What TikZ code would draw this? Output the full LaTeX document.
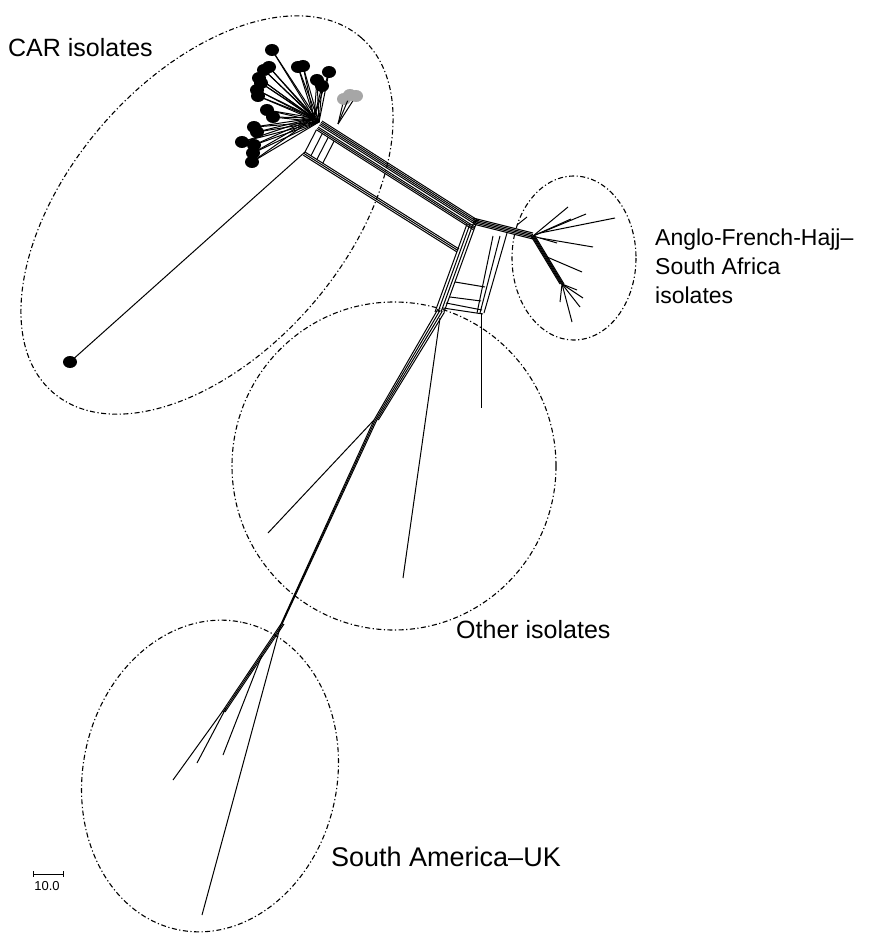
\documentclass[tikz,border=0pt]{standalone}
\usepackage{fontspec}
\setmainfont{Liberation Sans}
\usetikzlibrary{calc}

\begin{document}
\begin{tikzpicture}[x=1pt, y=-1pt,
    split/.style={line width=1pt},
    group/.style={line width=1.1pt, dash pattern=on 5pt off 2.5pt on 1.2pt off 2.5pt},
    taxon/.style={fill=black},
    lbl/.style={font=\fontsize{25}{29}\selectfont, inner sep=0pt}]

  \useasboundingbox (0,0) rectangle (869,933);

  % hubs of the network
  \coordinate (carhub) at (314,118);
  \coordinate (carroot) at (305,152);
  \coordinate (cardot) at (70,362);

  \coordinate (ua) at (322,121);
  \coordinate (ub) at (479,221);
  \coordinate (la) at (305,152);
  \coordinate (lb) at (459,249);

  \coordinate (bl1) at (467,224);
  \coordinate (bl2) at (435,312);

  \coordinate (afhub) at (533,236);
  \coordinate (afsub) at (562,284);

  \coordinate (trunk) at (438,309);
  \coordinate (bend) at (374,420);
  \coordinate (sahub) at (281,624);
  \coordinate (saband) at (222,712);

  % groups
  \draw[group, rotate around={49:(207,215)}] (207,215) ellipse [x radius=235, y radius=138];
  \draw[group] (394,466) ellipse [x radius=162, y radius=164];
  \draw[group] (574,258) ellipse [x radius=62, y radius=82];
  \draw[group, rotate around={78:(210,776)}] (210,776) ellipse [x radius=157, y radius=127];

  % CAR fan
  \foreach \x/\y in {272/50, 269/67, 264/70, 259/78, 261/83, 257/90, 258/96,
                     303/66, 298/67, 329/72, 317/80, 322/86, 267/110, 273/117,
                     254/127, 257/132, 242/142, 254/145, 253/153, 252/162}
    {
      \draw[split] (carhub) -- (\x,\y);
      \draw[split] ($(carhub)+(5,4)$) -- (\x,\y);
      \fill[taxon] (\x,\y) ellipse [x radius=7, y radius=6];
    }
  \foreach \x/\y in {344/99, 350/95, 356/96}
    {
      \draw[split] (338,124) -- (\x,\y);
      \fill[gray!70] (\x,\y) ellipse [x radius=7, y radius=6];
    }

  \draw[split] (carroot) -- (cardot);
  \fill[taxon] (cardot) ellipse [x radius=7, y radius=6];

  % the two long bands
  \foreach \k in {0,1.6,3.2,4.8,7.2,8.8,10.4}
    \draw[split] ($(ua)+(-0.535*\k,0.845*\k)$) -- ($(ub)+(-0.535*\k,0.845*\k)$);
  \foreach \k in {0,1.8,3.6}
    \draw[split] ($(la)+(-0.535*\k,0.845*\k)$) -- ($(lb)+(-0.535*\k,0.845*\k)$);
  \foreach \s in {0,7,14,21}
    \draw[split] ($(ua)+(-5.6,8.8)+(0.845*\s,0.535*\s)$) -- ($(la)+(0.845*\s,0.535*\s)$);

  % box under the junction
  \foreach \k in {0,3,6,9}
    \draw[split] ($(bl1)+(\k,0)$) -- ($(bl2)+(\k,0)$);
  \draw[split] (493,236) -- (477,313);
  \draw[split] (500,236) -- (480,313);
  \draw[split] (507,233) -- (484,313);
  \draw[split] (455,282) -- (485,287);
  \draw[split] (450,297) -- (481,301);
  \draw[split] (446,303) -- (482,310);
  \draw[split] (443,308) -- (483,314);

  \foreach \k in {-3,-1.5,0,1.5,3}
    \draw[split] ($(ub)+(-6,\k)$) -- ($(afhub)+(0,\k)$);

  % Anglo-French-Hajj-South Africa
  \draw[split] (afhub) -- (568,207);
  \draw[split] (afhub) -- (571,219);
  \draw[split] (afhub) -- (586,214);
  \draw[split] (540,233) -- (615,218);
  \draw[split] (afhub) -- (557,243);
  \draw[split] (540,238) -- (593,247);
  \draw[split] (517,225) -- (527,217);
  \foreach \k in {-2,-1,0,1,2}
    \draw[split] ($(afhub)+(\k,0)$) -- ($(afsub)+(\k,0)$);
  \draw[split] (547,257) -- (582,272);
  \draw[split] (afsub) -- (560,302);
  \draw[split] (afsub) -- (572,322);
  \draw[split] (afsub) -- (580,307);
  \draw[split] (afsub) -- (583,298);
  \draw[split] (afsub) -- (577,290);

  % trunk down to South America-UK
  \foreach \k in {0,2.4,4.8,7.2}
    \draw[split] ($(trunk)+(0.887*\k,0.462*\k)$) -- ($(bend)+(0.6*\k,0)$);
  \foreach \k in {0,1.4,2.8}
    \draw[split] ($(bend)+(\k,0)$) -- ($(sahub)+(0.4*\k,0)$);
  \draw[split] (bend) -- (268,533);
  \draw[split] (440,318) -- (403,578);
  \draw[split] (481,313) -- (481,408);

  \foreach \k in {0,1.5,3}
    \draw[split] ($(sahub)+(\k,0)$) -- ($(saband)+(\k,0)$);
  \draw[split] (saband) -- (173,780);
  \draw[split] (226,708) -- (197,763);
  \draw[split] (262,655) -- (223,755);
  \draw[split] (sahub) -- (202,915);

  % scale
  \coordinate (s1) at (33,874);
  \coordinate (s2) at (63,874);
  \draw[split] (s1) -- (s2);
  \draw[split] ($(s1)+(0,-3)$) -- ($(s1)+(0,3)$);
  \draw[split] ($(s2)+(0,-3)$) -- ($(s2)+(0,3)$);
  \node[font=\fontsize{13}{15}\selectfont, inner sep=0pt] (scale) at (47,886) {10.0};

  % labels
  \node[lbl, anchor=base west] (carlbl) at (8,57) {CAR isolates};
  \node[lbl, anchor=north west, align=left, font=\fontsize{23}{29}\selectfont] (aflbl) at (655,229) {Anglo-French-Hajj–\\South Africa\\isolates};
  \node[lbl, anchor=base west] (otherlbl) at (456,638) {Other isolates};
  \node[lbl, anchor=base west, font=\fontsize{27}{31}\selectfont] (salbl) at (331,866) {South America–UK};

\end{tikzpicture}
\end{document}
